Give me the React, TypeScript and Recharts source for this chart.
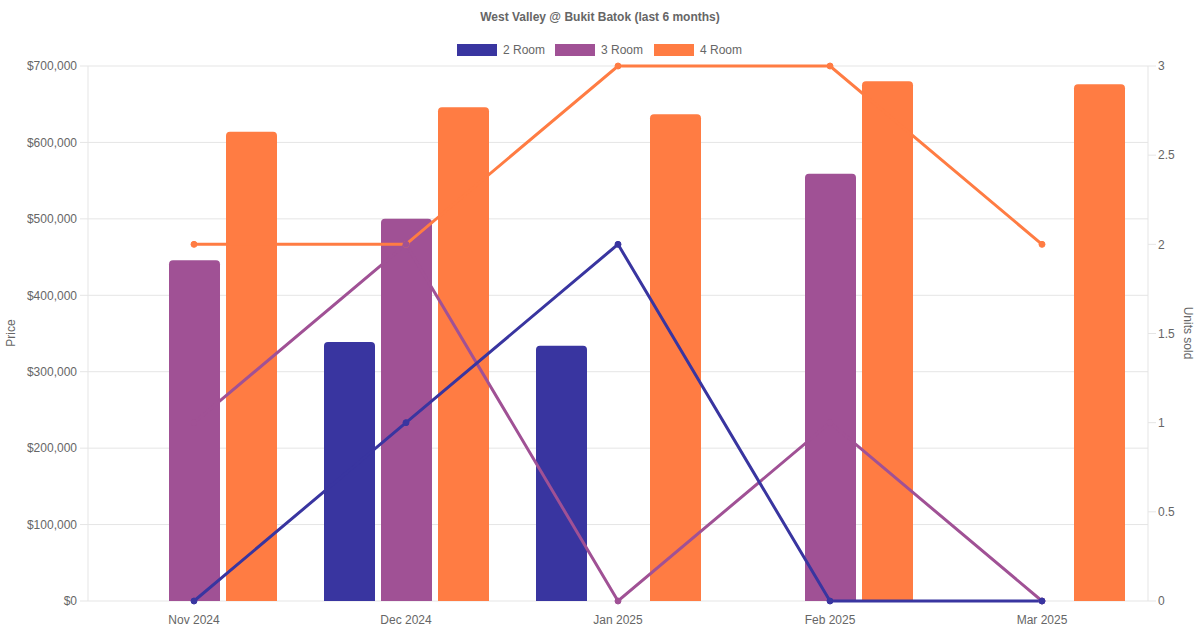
import React from 'react';
import { ComposedChart, Bar, Line, XAxis, YAxis, CartesianGrid } from 'recharts';

const months = ['Nov 2024', 'Dec 2024', 'Jan 2025', 'Feb 2025', 'Mar 2025'];
const price2Room = [null, 339000, 334000, null, null];
const price3Room = [446000, 500000, null, 559000, null];
const price4Room = [614000, 646000, 637000, 680000, 676000];
const units2Room = [0, 1, 2, 0, 0];
const units3Room = [1, 2, 0, 1, 0];
const units4Room = [2, 2, 3, 3, 2];
const priceTicks = [0, 100000, 200000, 300000, 400000, 500000, 600000, 700000];
const unitTicks = [0, 0.5, 1, 1.5, 2, 2.5, 3];

const seriesNames = ['2 Room', '3 Room', '4 Room'];
const colors = ['#3935a0', '#a05195', '#ff7c43'];

const data = months.map((m, i) => ({
  month: m,
  p2: price2Room[i],
  p3: price3Room[i],
  p4: price4Room[i],
  u2: units2Room[i],
  u3: units3Room[i],
  u4: units4Room[i],
}));

const FONT = '"Liberation Sans", Arial, Helvetica, sans-serif';
const GRID = '#e5e5e5';
const TEXT = '#666666';

const fmtPrice = (v: number) => '$' + v.toLocaleString('en-US');

export default function App() {
  const legendStarts = [457, 555, 654];
  return (
    <div style={{ position: 'absolute', left: 0, top: 0, width: 1200, height: 630, background: '#fff', fontFamily: FONT }}>
      <ComposedChart
        width={1200}
        height={630}
        data={data}
        margin={{ top: 66, right: 0, bottom: 0, left: 0 }}
        barCategoryGap={24}
        barGap={6}
      >
        <CartesianGrid yAxisId="price" vertical={false} stroke={GRID} strokeWidth={1} />
        <XAxis
          dataKey="month"
          height={29}
          tickLine={false}
          tickSize={6}
          tickMargin={8}
          axisLine={false}
          tick={{ fill: TEXT, fontSize: 12, fontFamily: FONT }}
        />
        <YAxis
          yAxisId="price"
          orientation="left"
          width={88}
          domain={[0, 700000]}
          ticks={priceTicks}
          tickFormatter={fmtPrice}
          tickSize={8}
          tickMargin={3}
          tickLine={{ stroke: GRID }}
          axisLine={{ stroke: GRID }}
          tick={{ fill: TEXT, fontSize: 12, fontFamily: FONT }}
          interval={0}
        />
        <YAxis
          yAxisId="units"
          orientation="right"
          width={52}
          domain={[0, 3]}
          ticks={unitTicks}
          tickSize={8}
          tickMargin={2}
          tickLine={{ stroke: GRID }}
          axisLine={{ stroke: GRID }}
          tick={{ fill: TEXT, fontSize: 12, fontFamily: FONT }}
          interval={0}
        />
        <Bar yAxisId="price" dataKey="p2" name="2 Room" fill={colors[0]} radius={[4, 4, 0, 0]} isAnimationActive={false} />
        <Bar yAxisId="price" dataKey="p3" name="3 Room" fill={colors[1]} radius={[4, 4, 0, 0]} isAnimationActive={false} />
        <Bar yAxisId="price" dataKey="p4" name="4 Room" fill={colors[2]} radius={[4, 4, 0, 0]} isAnimationActive={false} />
        <Line yAxisId="units" type="linear" dataKey="u4" stroke={colors[2]} strokeWidth={3}
          dot={{ r: 3, fill: colors[2], stroke: colors[2], strokeWidth: 1 }} activeDot={false} isAnimationActive={false} />
        <Line yAxisId="units" type="linear" dataKey="u3" stroke={colors[1]} strokeWidth={3}
          dot={{ r: 3, fill: colors[1], stroke: colors[1], strokeWidth: 1 }} activeDot={false} isAnimationActive={false} />
        <Line yAxisId="units" type="linear" dataKey="u2" stroke={colors[0]} strokeWidth={3}
          dot={{ r: 3, fill: colors[0], stroke: colors[0], strokeWidth: 1 }} activeDot={false} isAnimationActive={false} />
      </ComposedChart>
      <svg width={1200} height={630} style={{ position: 'absolute', left: 0, top: 0, pointerEvents: 'none' }}>
        <text x={600} y={17} textAnchor="middle" dominantBaseline="central" fill={TEXT} fontSize={12} fontWeight="bold" fontFamily={FONT}>
          West Valley @ Bukit Batok (last 6 months)
        </text>
        {seriesNames.map((n, i) => (
          <g key={n}>
            <rect x={legendStarts[i]} y={44} width={40} height={12} fill={colors[i]} />
            <text x={legendStarts[i] + 46} y={50} dominantBaseline="central" fill={TEXT} fontSize={12} fontFamily={FONT}>{n}</text>
          </g>
        ))}
        <text x={11} y={333} transform="rotate(-90 11 333)" textAnchor="middle" dominantBaseline="central" fill={TEXT} fontSize={12} fontFamily={FONT}>Price</text>
        <text x={1188} y={333} transform="rotate(90 1188 333)" textAnchor="middle" dominantBaseline="central" fill={TEXT} fontSize={12} fontFamily={FONT}>Units sold</text>
      </svg>
    </div>
  );
}
